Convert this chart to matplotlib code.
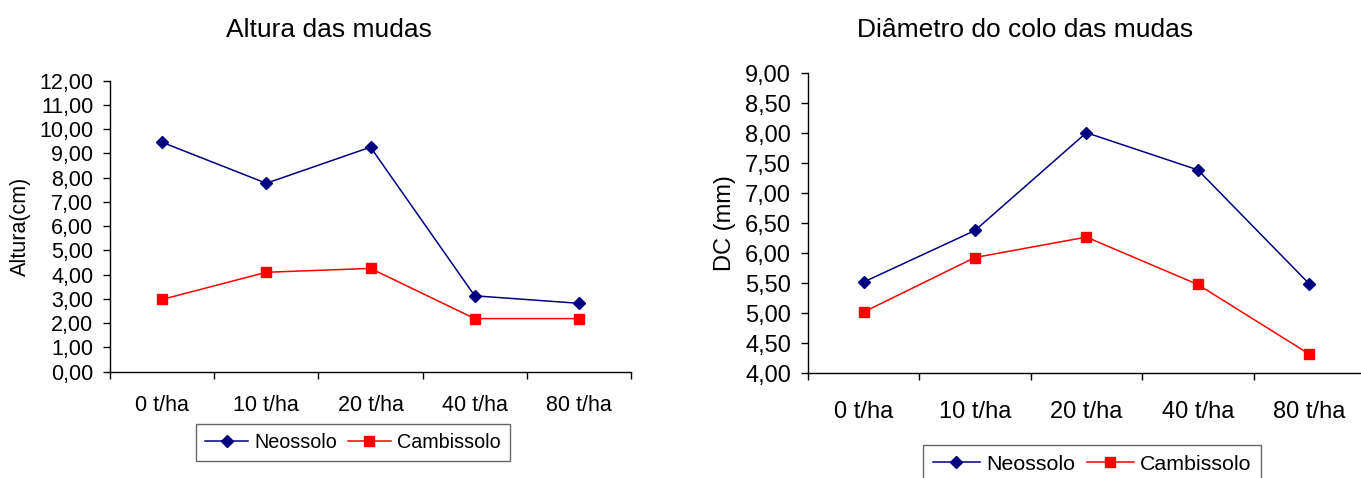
import matplotlib
matplotlib.use("Agg")
import matplotlib.pyplot as plt
from matplotlib.ticker import MultipleLocator, FixedLocator, FuncFormatter

plt.rcParams["font.family"] = ["Liberation Sans", "DejaVu Sans"]

# Doses of organic matter applied
categories = ["0 t/ha", "10 t/ha", "20 t/ha", "40 t/ha", "80 t/ha"]

# Seedling height (cm)
altura_neossolo = [9.46, 7.77, 9.26, 3.13, 2.82]
altura_cambissolo = [2.98, 4.10, 4.26, 2.19, 2.19]

# Collar diameter (mm)
dc_neossolo = [5.52, 6.38, 8.01, 7.39, 5.49]
dc_cambissolo = [5.02, 5.93, 6.27, 5.48, 4.32]

NAVY = "#000080"
RED = "#ff0000"
W, H = 1361, 478

fig = plt.figure(figsize=(W / 100, H / 100), dpi=100)

comma = FuncFormatter(lambda v, p: f"{v:.2f}".replace(".", ","))


def draw(ax, neo, cam, ymin, ymax, step, ylabel, label_x, xpad, fs):
    x = range(len(categories))
    ax.plot(x, neo, color=NAVY, lw=1.1, marker="D", ms=6, mfc=NAVY, mec=NAVY,
            label="Neossolo", clip_on=False)
    ax.plot(x, cam, color=RED, lw=1.1, marker="s", ms=6.5, mfc=RED, mec=RED,
            label="Cambissolo", clip_on=False)
    ax.set_xlim(-0.5, len(categories) - 0.5)
    ax.set_ylim(ymin, ymax)
    ax.yaxis.set_major_locator(MultipleLocator(step))
    ax.yaxis.set_major_formatter(comma)
    ax.set_xticks(list(x))
    ax.set_xticklabels(categories)
    ax.xaxis.set_minor_locator(FixedLocator([i - 0.5 for i in range(len(categories) + 1)]))
    ax.tick_params(axis="x", which="major", length=0, pad=xpad, labelsize=fs)
    ax.tick_params(axis="x", which="minor", length=5, width=1, direction="out")
    ax.tick_params(axis="y", length=5, width=1, direction="out", pad=7, labelsize=fs)
    for s in ("top", "right"):
        ax.spines[s].set_visible(False)
    for s in ("left", "bottom"):
        ax.spines[s].set_linewidth(1)
    ax.set_ylabel(ylabel, fontsize=fs)
    pos = ax.get_position()
    ax.yaxis.set_label_coords(label_x / W, 0.5 * (pos.y0 + pos.y1),
                              transform=fig.transFigure)


ax1 = fig.add_axes([110 / W, 1 - 371.7 / H, (631 - 110) / W, (371.7 - 80.7) / H])
draw(ax1, altura_neossolo, altura_cambissolo, 0, 12, 1, "Altura(cm)", 31, 17, 15.5)
fig.text(329 / W, 1 - 30 / H, "Altura das mudas", ha="center", va="center", fontsize=19)

ax2 = fig.add_axes([807.8 / W, 1 - 373.3 / H, (1365 - 807.8) / W, 300 / H])
draw(ax2, dc_neossolo, dc_cambissolo, 4, 9, 0.5, "DC (mm)", 736, 20, 17)
fig.text(1025 / W, 1 - 30 / H, "Diâmetro do colo das mudas", ha="center", va="center", fontsize=19)

for ax, left, top, fs in ((ax1, 196, 424, 14.2), (ax2, 923, 445, 15.4)):
    leg = fig.legend(*ax.get_legend_handles_labels(), loc="upper left",
                     bbox_to_anchor=(left / W, 1 - top / H), ncol=2, fontsize=fs,
                     frameon=True, fancybox=False, borderpad=0.45, handlelength=2.2,
                     handletextpad=0.3, columnspacing=0.55, borderaxespad=0)
    leg.get_frame().set_edgecolor("#404040")
    leg.get_frame().set_linewidth(1)

fig.savefig("out.png", dpi=100)
